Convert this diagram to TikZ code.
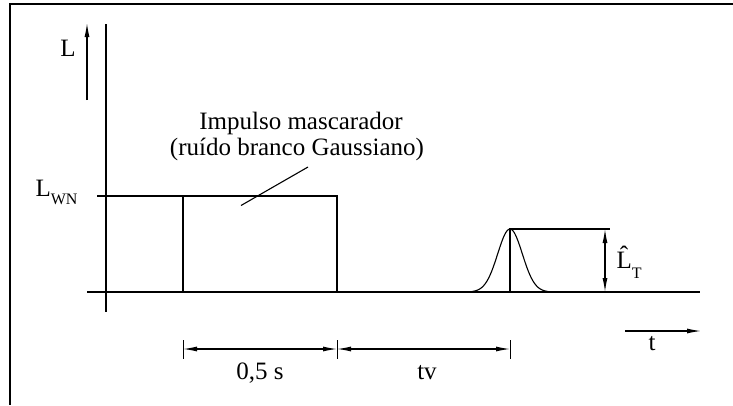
\documentclass[tikz,border=0pt]{standalone}
\usepackage{fontspec}
\setmainfont{Liberation Serif}
\usetikzlibrary{arrows.meta,positioning}

\begin{document}
\begin{tikzpicture}[
  x=1pt, y=-1pt,
  line width=1.1pt,
  lbl/.style={font=\fontsize{25}{27}\selectfont, inner sep=0pt, anchor=base},
  arrow/.style={-{Latex[length=14pt,width=5pt]}},
  dim/.style={{Latex[length=14pt,width=5pt]}-{Latex[length=14pt,width=5pt]}},
  tick/.style={line width=0.9pt}
]
  \useasboundingbox (0,0) rectangle (733,405);

  % Frame
  \coordinate (fr) at (733,4);
  \coordinate (fc) at (10,4);
  \coordinate (fb) at (10,405);
  \draw (fr) -- (fc) -- (fb);

  % Axes
  \coordinate (ytop) at (106,24);
  \coordinate (ybot) at (106,312);
  \coordinate (x0) at (87,292);
  \coordinate (x1) at (700,292);
  \draw (ytop) -- (ybot);
  \draw (x0) -- (x1);

  % L arrow
  \coordinate (la) at (87,100);
  \coordinate (lb) at (87,23);
  \draw[arrow] (la) -- (lb);
  \node[lbl] (lname) at (68,56.7) {L};

  % Masking pulse
  \coordinate (wn0) at (97,196);
  \coordinate (p0) at (183,292);
  \coordinate (p1) at (183,196);
  \coordinate (p2) at (337,196);
  \coordinate (p3) at (337,292);
  \draw (wn0) -- (p2) -- (p3);
  \draw (p0) -- (p1);
  \node[lbl, anchor=base west] (lwn) at (35,196.7)
    {L\raisebox{-8pt}{\fontsize{16}{18}\selectfont WN}};

  % Label with leader
  \node[lbl] (note1) at (301,129.5) {Impulso mascarador};
  \node[lbl] (note2) at (297,155) {(ruído branco Gaussiano)};
  \coordinate (lead0) at (241,205.5);
  \coordinate (lead1) at (308,167);
  \draw (lead0) -- (lead1);

  % Target pulse
  \coordinate (g0) at (510,292);
  \coordinate (g1) at (510,229);
  \coordinate (g2) at (610,229);
  \draw plot[domain=-38:38, samples=61, smooth]
    ({510+\x}, {292-63*exp(-1*(\x/17.4)*(\x/17.4))});
  \draw (g0) -- (g1) -- (g2);
  \coordinate (lt0) at (605,229);
  \coordinate (lt1) at (605,292);
  \draw[dim] (lt0) -- (lt1);
  \node[lbl, anchor=base west] (lt) at (616,268)
    {\^{L}\raisebox{-10pt}{\fontsize{16}{18}\selectfont T}};

  % Time axis
  \coordinate (t0) at (625,331);
  \coordinate (t1) at (701,331);
  \draw[arrow] (t0) -- (t1);
  \node[lbl] (tname) at (652,350) {t};

  % Durations
  \coordinate (d0) at (183,349);
  \coordinate (d1) at (337,349);
  \coordinate (d2) at (510,349);
  \foreach \d in {d0,d1,d2} {
    \draw[tick] ([yshift=9pt]\d) -- ([yshift=-10pt]\d);
  }
  \draw[dim] (d0) -- (d1);
  \draw[dim] (d1) -- (d2);
  \node[lbl] (dur) at (260,379) {0,5 s};
  \node[lbl] (tv) at (427,379) {tv};
\end{tikzpicture}
\end{document}
